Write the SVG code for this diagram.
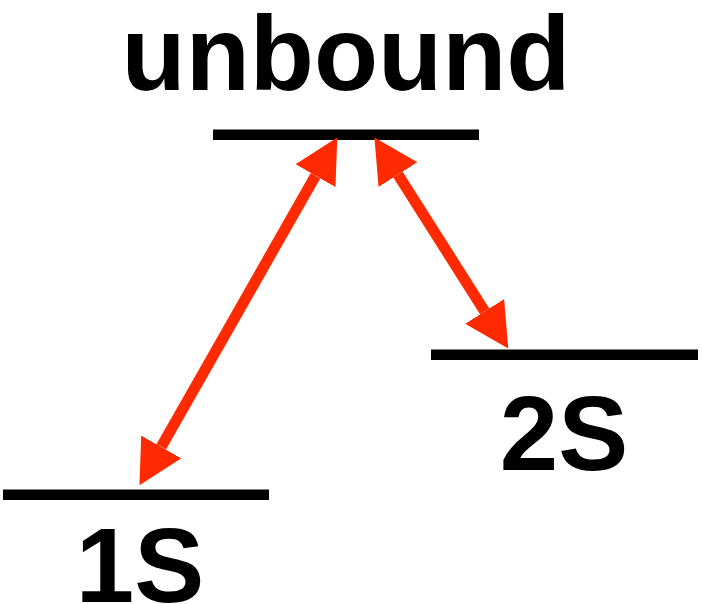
<svg xmlns="http://www.w3.org/2000/svg" width="702" height="604" viewBox="0 0 702 604">
<style>
.lvl{stroke:#000;stroke-width:10.6;fill:none}
.lbl{font-family:"Liberation Sans",Arial,Helvetica,sans-serif;font-weight:bold;font-size:105px;fill:#000;text-anchor:middle}
.arr{stroke:#ff2a00;stroke-width:11;fill:none}
</style>
<defs>
<marker id="head" markerUnits="userSpaceOnUse" markerWidth="44" markerHeight="46" viewBox="0 0 44 46" refX="0" refY="23" orient="auto-start-reverse">
<path d="M0,0 L44,23 L0,46 Z" fill="#ff2a00"/>
</marker>
</defs>
<rect width="702" height="604" fill="#fff"/>
<g id="unbound">
<line class="lvl" x1="213" y1="134.8" x2="479" y2="134.8"/>
<text class="lbl" x="346" y="90">unbound</text>
</g>
<g id="s1">
<line class="lvl" x1="3" y1="494.7" x2="269" y2="494.7"/>
<text class="lbl" x="140" y="601.5">1S</text>
</g>
<g id="s2">
<line class="lvl" x1="431" y1="354.7" x2="698" y2="354.7"/>
<text class="lbl" x="564" y="470">2S</text>
</g>
<g id="connectors">
<line class="arr" x1="161.2" y1="446.9" x2="315.5" y2="175.7" marker-start="url(#head)" marker-end="url(#head)"/>
<line class="arr" x1="398" y1="174.6" x2="484.7" y2="311.4" marker-start="url(#head)" marker-end="url(#head)"/>
</g>
</svg>
